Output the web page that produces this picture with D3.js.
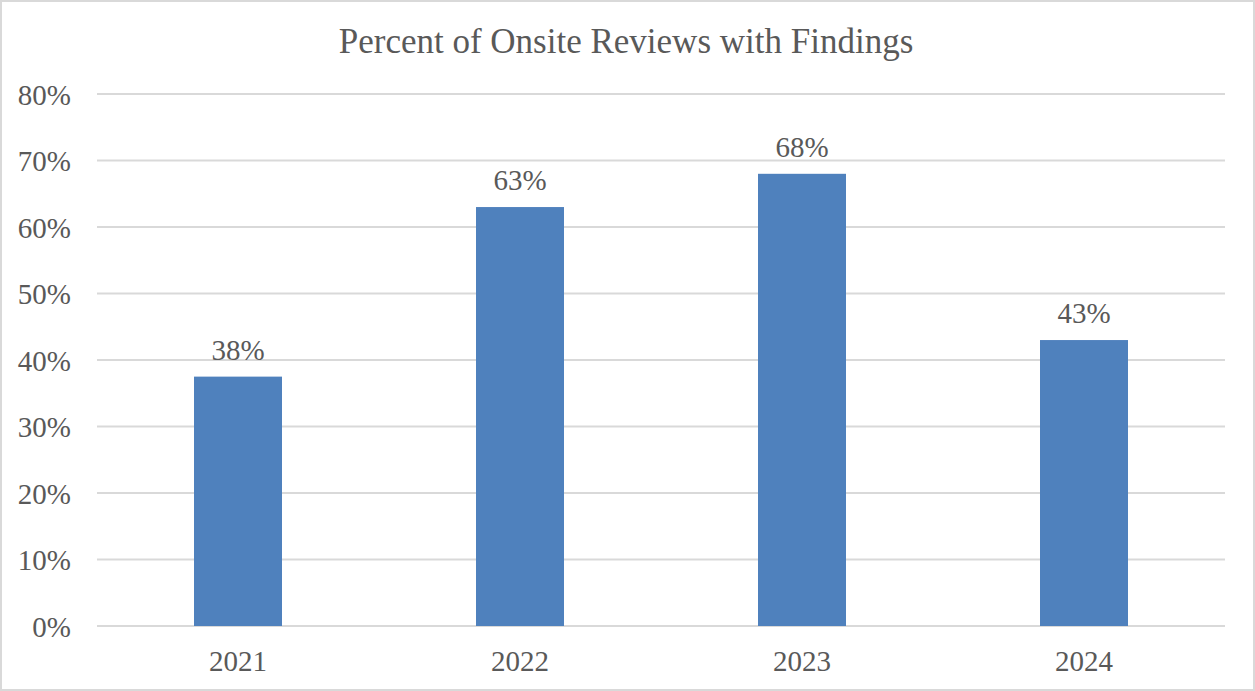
<!DOCTYPE html>
<html>
<head>
<meta charset="utf-8">
<script src="https://cdn.jsdelivr.net/npm/d3@7"></script>
<style>
  body { margin: 0; background: #fff; }
  text { font-family: "Liberation Serif", "Times New Roman", serif; fill: #595959; }
</style>
</head>
<body>
<div id="chart"></div>
<script>
// data
var years = ["2021", "2022", "2023", "2024"];
var percents = [37.5, 63, 68, 43];
var yTicks = [0, 10, 20, 30, 40, 50, 60, 70, 80];

var W = 1255, H = 691;
var margin = {top: 94, right: 30, bottom: 65, left: 97},
    width = W - margin.left - margin.right,
    height = H - margin.top - margin.bottom;

var svg = d3.select("#chart")
    .append("svg")
    .attr("width", W)
    .attr("height", H);

// outer chart border
svg.append("rect")
    .attr("x", 1).attr("y", 1)
    .attr("width", W - 2).attr("height", H - 2)
    .attr("fill", "none")
    .attr("stroke", "#d9d9d9")
    .attr("stroke-width", 2);

svg.append("text")
    .attr("x", 626)
    .attr("y", 53)
    .attr("text-anchor", "middle")
    .style("font-size", "35px")
    .text("Percent of Onsite Reviews with Findings");

var g = svg.append("g")
    .attr("transform", "translate(" + margin.left + "," + margin.top + ")");

var x = d3.scaleBand()
    .domain(years)
    .range([0, width])
    .paddingInner(0.688)
    .paddingOuter(0.344);

var y = d3.scaleLinear()
    .domain([0, 80])
    .range([height, 0]);

// gridlines
g.append("g")
    .selectAll("line")
    .data(yTicks)
    .enter()
    .append("line")
    .attr("x1", 0)
    .attr("x2", width)
    .attr("y1", function (d) { return y(d); })
    .attr("y2", function (d) { return y(d); })
    .attr("stroke", "#d9d9d9")
    .attr("stroke-width", 2);

// y axis labels
var yAxis = g.append("g")
    .attr("transform", "translate(-26,0)")
    .call(d3.axisLeft(y).tickValues(yTicks).tickSize(0).tickPadding(0)
        .tickFormat(function (d) { return d + "%"; }));
yAxis.select(".domain").remove();
yAxis.selectAll("text")
    .attr("dy", "0.35em")
    .style("font-size", "29px")
    .attr("fill", "#595959");

// x axis labels
var xAxis = g.append("g")
    .attr("transform", "translate(0," + height + ")")
    .call(d3.axisBottom(x).tickSize(0).tickPadding(0));
xAxis.select(".domain").remove();
xAxis.selectAll("text")
    .attr("y", 45)
    .attr("dy", "0")
    .style("font-size", "29px")
    .attr("fill", "#595959");

// bars
g.append("g")
    .selectAll("rect")
    .data(percents)
    .enter()
    .append("rect")
    .attr("x", function (d, i) { return x(years[i]); })
    .attr("y", function (d) { return y(d); })
    .attr("width", x.bandwidth())
    .attr("height", function (d) { return height - y(d); })
    .attr("fill", "#4f81bd");

// value labels
g.append("g")
    .selectAll("text")
    .data(percents)
    .enter()
    .append("text")
    .attr("x", function (d, i) { return x(years[i]) + x.bandwidth() / 2; })
    .attr("y", function (d) { return y(d) - 17; })
    .attr("text-anchor", "middle")
    .style("font-size", "29px")
    .text(function (d) { return Math.round(d) + "%"; });
</script>
</body>
</html>
